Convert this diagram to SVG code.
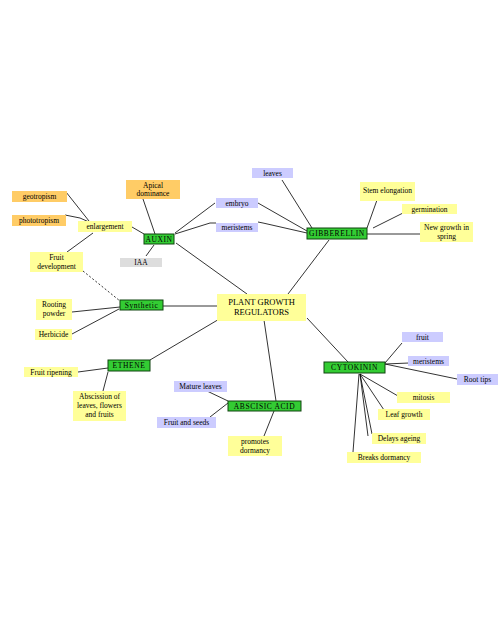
<svg xmlns="http://www.w3.org/2000/svg" width="504" height="618" viewBox="0 0 504 618">
<style>
text{font-family:"Liberation Serif","Times New Roman",serif;font-size:7.5px;fill:#000;text-anchor:middle}
.y{fill:#FFFF99}
.o{fill:#FFCC66}
.l{fill:#CCCCFF}
.g{fill:#DDDDDD}
.k{fill:#33CC33;stroke:#114411;stroke-width:1}
.k+text{letter-spacing:0.6px}
.c line,.c polyline{stroke:#000;stroke-width:0.8;fill:none}
.d{stroke-dasharray:2,2}
.p{font-size:8.5px}
</style>
<rect width="504" height="618" fill="#fff"/>
<g class="c">
<line x1="66" y1="192" x2="89" y2="221"/>
<polyline points="65,215 80,218 89,222"/>
<line x1="132" y1="227" x2="144" y2="234"/>
<line x1="93" y1="233" x2="67" y2="252"/>
<line class="d" x1="83" y1="271" x2="120" y2="301"/>
<line x1="143" y1="199" x2="155" y2="234"/>
<line x1="175" y1="233" x2="215" y2="203"/>
<polyline points="175,234 210,223 216,223"/>
<line x1="154" y1="245" x2="146" y2="256"/>
<line x1="176" y1="243" x2="247" y2="294"/>
<line x1="258" y1="203" x2="307" y2="231"/>
<polyline points="258,222 263,223 307,233"/>
<line x1="282" y1="180" x2="312" y2="228"/>
<line x1="377" y1="200" x2="367" y2="228"/>
<line x1="407" y1="211" x2="373" y2="228"/>
<line x1="367" y1="234" x2="420" y2="234"/>
<line x1="329" y1="240" x2="288" y2="294"/>
<line x1="163" y1="306" x2="217" y2="306"/>
<line x1="72" y1="312" x2="120" y2="307"/>
<line x1="72" y1="334" x2="119" y2="309"/>
<line x1="150" y1="360" x2="221" y2="318"/>
<line x1="78" y1="372" x2="108" y2="368"/>
<line x1="108" y1="372" x2="103" y2="391"/>
<line x1="264" y1="320" x2="276" y2="401"/>
<line x1="207" y1="391" x2="228" y2="401"/>
<line x1="210" y1="417" x2="228" y2="403"/>
<line x1="274" y1="411" x2="264" y2="436"/>
<line x1="307" y1="318" x2="348" y2="362"/>
<line x1="402" y1="343" x2="385" y2="363"/>
<line x1="385" y1="364" x2="409" y2="363"/>
<line x1="385" y1="364" x2="457" y2="379"/>
<line x1="360" y1="374" x2="398" y2="396"/>
<line x1="360" y1="374" x2="384" y2="410"/>
<line x1="360" y1="374" x2="372" y2="434"/>
<line x1="360" y1="374" x2="368" y2="436"/>
<line x1="359" y1="374" x2="353" y2="452"/>
</g>
<g id="geotropism"><rect class="o" x="12" y="191" width="55" height="11"/><text x="39.5" y="199">geotropism</text></g>
<g id="phototropism"><rect class="o" x="12" y="215" width="54" height="11"/><text x="39" y="223">phototropism</text></g>
<g id="apical"><rect class="o" x="126" y="180" width="54" height="19"/><text x="153" y="188">Apical</text><text x="153" y="196">dominance</text></g>
<g id="enlargement"><rect class="y" x="78" y="221" width="54" height="11"/><text x="105" y="229">enlargement</text></g>
<g id="auxin"><rect class="k" x="144" y="234" width="30" height="10"/><text x="159" y="242">AUXIN</text></g>
<g id="iaa"><rect class="g" x="120" y="258" width="42" height="9"/><text x="141" y="265">IAA</text></g>
<g id="fruitdev"><rect class="y" x="30" y="252" width="53" height="20"/><text x="56.5" y="260">Fruit</text><text x="56.5" y="269">development</text></g>
<g id="embryo"><rect class="l" x="216" y="198" width="42" height="10"/><text x="237" y="206">embryo</text></g>
<g id="meristems1"><rect class="l" x="216" y="223" width="42" height="9"/><text x="237" y="230">meristems</text></g>
<g id="leaves"><rect class="l" x="252" y="168" width="41" height="10"/><text x="272.5" y="176">leaves</text></g>
<g id="gibberellin"><rect class="k" x="307" y="228" width="60" height="11"/><text x="337" y="236">GIBBERELLIN</text></g>
<g id="stem"><rect class="y" x="360" y="182" width="55" height="19"/><text x="387.5" y="193">Stem elongation</text></g>
<g id="germination"><rect class="y" x="402" y="204" width="55" height="10"/><text x="429.5" y="212">germination</text></g>
<g id="newgrowth"><rect class="y" x="420" y="222" width="53" height="20"/><text x="446.5" y="230">New growth  in</text><text x="446.5" y="239">spring</text></g>
<g id="pgr"><rect class="y" x="217" y="294" width="89" height="27"/><text class="p" x="261.5" y="305">PLANT GROWTH</text><text class="p" x="261.5" y="315">REGULATORS</text></g>
<g id="synthetic"><rect class="k" x="120" y="300" width="43" height="10"/><text x="141.5" y="308">Synthetic</text></g>
<g id="rooting"><rect class="y" x="36" y="299" width="36" height="21"/><text x="54" y="307">Rooting</text><text x="54" y="316">powder</text></g>
<g id="herbicide"><rect class="y" x="35" y="329" width="37" height="11"/><text x="53.5" y="337">Herbicide</text></g>
<g id="ethene"><rect class="k" x="108" y="360" width="42" height="11"/><text x="129" y="368">ETHENE</text></g>
<g id="ripening"><rect class="y" x="24" y="367" width="54" height="10"/><text x="51" y="375">Fruit ripening</text></g>
<g id="abscission"><rect class="y" x="73" y="391" width="53" height="30"/><text x="99.5" y="399">Abscission of</text><text x="99.5" y="408">leaves, flowers</text><text x="99.5" y="417">and fruits</text></g>
<g id="mature"><rect class="l" x="174" y="381" width="53" height="11"/><text x="200.5" y="389">Mature  leaves</text></g>
<g id="abscisic"><rect class="k" x="228" y="401" width="73" height="10"/><text x="264.5" y="409">ABSCISIC ACID</text></g>
<g id="fruitseeds"><rect class="l" x="157" y="417" width="59" height="11"/><text x="186.5" y="425">Fruit and seeds</text></g>
<g id="promotes"><rect class="y" x="228" y="436" width="54" height="20"/><text x="255" y="444">promotes</text><text x="255" y="453">dormancy</text></g>
<g id="cytokinin"><rect class="k" x="324" y="362" width="61" height="11"/><text x="354.5" y="370">CYTOKININ</text></g>
<g id="fruit"><rect class="l" x="402" y="332" width="41" height="10"/><text x="422.5" y="340">fruit</text></g>
<g id="meristems2"><rect class="l" x="408" y="356" width="41" height="10"/><text x="428.5" y="364">meristems</text></g>
<g id="roottips"><rect class="l" x="457" y="374" width="41" height="11"/><text x="477.5" y="382">Root tips</text></g>
<g id="mitosis"><rect class="y" x="397" y="392" width="53" height="11"/><text x="423.5" y="400">mitosis</text></g>
<g id="leafgrowth"><rect class="y" x="378" y="409" width="52" height="11"/><text x="404" y="417">Leaf growth</text></g>
<g id="delays"><rect class="y" x="372" y="433" width="54" height="11"/><text x="399" y="441">Delays ageing</text></g>
<g id="breaks"><rect class="y" x="347" y="452" width="74" height="11"/><text x="384" y="460">Breaks dormancy</text></g>
</svg>
